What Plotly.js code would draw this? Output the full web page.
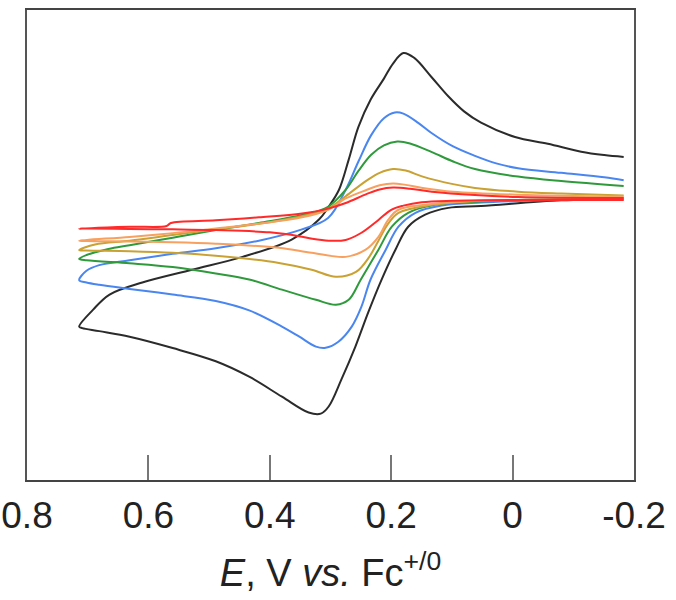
<!DOCTYPE html>
<html>
<head>
<meta charset="utf-8">
<script src="https://cdn.plot.ly/plotly-3.0.1.min.js"></script>
<style>html,body{margin:0;padding:0;background:#fff;}#chart{width:676px;height:600px;}</style>
</head>
<body>
<div id="chart"></div>
<script>
// Tick labels of the potential axis
var tickValues = [0.8, 0.6, 0.4, 0.2, 0, -0.2];
var tickLabels = ["0.8", "0.6", "0.4", "0.2", "0", "-0.2"];

// Black curve – forward (upper) and reverse (lower) sweeps
var blackFwdE = [0.714, 0.691, 0.664, 0.610, 0.528, 0.445, 0.364, 0.319, 0.303, 0.286, 0.270, 0.254, 0.234, 0.212, 0.197, 0.180, 0.162, 0.133, 0.106, 0.080, 0.052, -0.004, -0.058, -0.113, -0.151, -0.183];
var blackFwdI = [-34.3, -29.8, -25.8, -22.6, -19.2, -15.8, -11.2, -5.9, -2.5, 2.0, 10.0, 18.7, 25.9, 31.5, 35.5, 38.3, 37.0, 31.8, 26.8, 22.8, 19.8, 16.0, 14.2, 12.1, 11.2, 10.7];
var blackRevE = [-0.183, -0.080, 0.052, 0.106, 0.144, 0.172, 0.193, 0.216, 0.238, 0.259, 0.282, 0.303, 0.316, 0.336, 0.380, 0.434, 0.489, 0.560, 0.631, 0.681, 0.709, 0.714];
var blackRevI = [-0.5, -0.8, -2.3, -2.8, -4.6, -7.8, -13.9, -21.9, -30.6, -39.6, -48.3, -55.5, -57.4, -57.1, -52.9, -47.6, -43.5, -40.0, -37.0, -35.5, -34.7, -34.3];

// Blue curve
var blueFwdE = [0.714, 0.702, 0.681, 0.631, 0.560, 0.489, 0.418, 0.347, 0.304, 0.275, 0.254, 0.233, 0.212, 0.194, 0.180, 0.155, 0.133, 0.098, 0.062, 0.027, -0.009, -0.080, -0.151, -0.183];
var blueFwdI = [-22.0, -19.5, -18.0, -16.7, -15.0, -13.5, -11.5, -8.5, -5.5, 2.0, 9.5, 16.5, 21.0, 22.5, 22.2, 19.7, 17.0, 13.5, 11.0, 9.0, 7.7, 6.5, 5.3, 4.5];
var blueRevE = [-0.183, -0.009, 0.052, 0.117, 0.160, 0.188, 0.209, 0.234, 0.249, 0.265, 0.287, 0.308, 0.324, 0.352, 0.380, 0.434, 0.489, 0.560, 0.631, 0.681, 0.702, 0.714];
var blueRevI = [-0.3, -1.0, -1.4, -2.2, -4.1, -7.8, -13.9, -21.8, -29.0, -34.3, -38.3, -39.9, -39.6, -36.9, -34.3, -30.0, -27.5, -25.8, -24.3, -23.2, -22.6, -22.1];

// Green curve
var greenFwdE = [0.714, 0.702, 0.666, 0.631, 0.560, 0.489, 0.418, 0.347, 0.304, 0.275, 0.254, 0.233, 0.212, 0.190, 0.169, 0.133, 0.098, 0.062, -0.009, -0.080, -0.183];
var greenFwdI = [-16.3, -15.3, -13.7, -12.7, -10.7, -8.7, -6.8, -4.7, -2.5, 2.0, 7.0, 11.3, 13.8, 14.8, 14.3, 12.0, 9.5, 7.5, 5.5, 4.3, 3.0];
var greenRevE = [-0.183, -0.009, 0.062, 0.128, 0.172, 0.199, 0.221, 0.250, 0.270, 0.291, 0.324, 0.380, 0.434, 0.489, 0.560, 0.631, 0.702, 0.714];
var greenRevI = [-0.3, -0.7, -1.2, -2.0, -4.1, -7.8, -13.9, -21.8, -27.2, -28.5, -27.2, -24.5, -21.8, -20.2, -18.5, -17.5, -16.7, -16.4];

// Gold curve
var goldFwdE = [0.714, 0.688, 0.631, 0.560, 0.489, 0.418, 0.347, 0.304, 0.275, 0.240, 0.219, 0.197, 0.176, 0.148, 0.098, 0.062, -0.009, -0.080, -0.183];
var goldFwdI = [-14.0, -12.5, -11.5, -10.0, -8.5, -7.0, -5.0, -3.0, 0.3, 4.5, 6.5, 7.5, 7.1, 5.5, 3.5, 2.5, 1.5, 1.0, 0.5];
var goldRevE = [-0.183, -0.009, 0.062, 0.133, 0.188, 0.205, 0.221, 0.237, 0.258, 0.291, 0.331, 0.385, 0.489, 0.560, 0.631, 0.702, 0.714];
var goldRevI = [-0.5, -0.7, -1.0, -2.0, -4.1, -7.0, -11.5, -16.0, -19.8, -21.1, -19.2, -17.4, -15.5, -14.7, -14.3, -14.1, -14.0];

// Orange curve
var orangeFwdE = [0.714, 0.631, 0.560, 0.489, 0.418, 0.347, 0.304, 0.275, 0.240, 0.219, 0.197, 0.176, 0.148, 0.098, -0.009, -0.183];
var orangeFwdI = [-11.5, -10.5, -9.5, -8.3, -7.0, -5.3, -3.3, -0.3, 2.0, 3.2, 3.7, 3.3, 2.5, 1.5, 0.7, 0.2];
var orangeRevE = [-0.183, -0.009, 0.062, 0.133, 0.188, 0.205, 0.221, 0.242, 0.275, 0.331, 0.385, 0.489, 0.560, 0.631, 0.702, 0.714];
var orangeRevI = [-0.5, -0.7, -0.9, -1.8, -3.3, -6.0, -10.5, -13.9, -15.8, -14.7, -13.4, -12.3, -11.9, -11.7, -11.6, -11.5];

// Red curve
var redFwdE = [0.714, 0.631, 0.570, 0.563, 0.489, 0.418, 0.347, 0.304, 0.275, 0.240, 0.219, 0.197, 0.169, 0.133, 0.062, -0.009, -0.183];
var redFwdI = [-8.3, -7.8, -7.6, -6.8, -6.1, -5.3, -4.3, -3.0, -1.5, 0.9, 2.1, 2.6, 2.3, 1.5, 0.6, 0.1, -0.2];
var redRevE = [-0.183, -0.009, 0.098, 0.150, 0.180, 0.200, 0.221, 0.249, 0.275, 0.303, 0.330, 0.352, 0.400, 0.489, 0.560, 0.631, 0.702, 0.714];
var redRevI = [-0.7, -0.7, -0.9, -1.3, -2.2, -3.3, -6.0, -9.4, -11.3, -11.5, -11.0, -10.3, -9.3, -8.7, -8.5, -8.4, -8.3, -8.3];

var curves = [
  {fE: blackFwdE, fI: blackFwdI, rE: blackRevE, rI: blackRevI, color: "#2b2b2b"},
  {fE: blueFwdE, fI: blueFwdI, rE: blueRevE, rI: blueRevI, color: "#4a86f0"},
  {fE: greenFwdE, fI: greenFwdI, rE: greenRevE, rI: greenRevI, color: "#2f9a3c"},
  {fE: goldFwdE, fI: goldFwdI, rE: goldRevE, rI: goldRevI, color: "#c9a233"},
  {fE: orangeFwdE, fI: orangeFwdI, rE: orangeRevE, rI: orangeRevI, color: "#f7a060"},
  {fE: redFwdE, fI: redFwdI, rE: redRevE, rI: redRevI, color: "#ff2a2a"}
];

// Path: forward sweep walked from its right end back to the left turning point,
// then the reverse sweep from the turning point to its right end (right ends stay open).
var traces = curves.map(function (c) {
  var xs = c.fE.slice().reverse().concat(c.rE.slice().reverse().slice(1));
  var ys = c.fI.slice().reverse().concat(c.rI.slice().reverse().slice(1));
  return {
    x: xs,
    y: ys,
    type: "scatter",
    mode: "lines",
    line: {color: c.color, width: 2, shape: "spline", smoothing: 1},
    hoverinfo: "skip",
    showlegend: false
  };
});

var layout = {
  width: 676,
  height: 600,
  margin: {l: 27, r: 42, t: 10, b: 120},
  paper_bgcolor: "#fff",
  plot_bgcolor: "#fff",
  showlegend: false,
  font: {family: "Liberation Sans, Arial, sans-serif", color: "#222"},
  xaxis: {
    range: [0.8, -0.2],
    autorange: false,
    tickmode: "array",
    tickvals: tickValues,
    ticktext: tickLabels,
    ticks: "inside",
    ticklen: 25,
    tickwidth: 2,
    tickcolor: "#777",
    showline: true,
    linecolor: "#444",
    linewidth: 2,
    mirror: true,
    showgrid: false,
    zeroline: false,
    tickfont: {size: 37, color: "#222"},
    ticklabelstandoff: 2,
    title: {
      text: "<i>E</i>, V <i>vs.</i> Fc<sup>+/0</sup>",
      font: {size: 38, color: "#222"},
      standoff: 24
    }
  },
  yaxis: {
    range: [-75, 49.7],
    autorange: false,
    showticklabels: false,
    ticks: "",
    showgrid: false,
    zeroline: false,
    showline: true,
    linecolor: "#555",
    linewidth: 2,
    mirror: true
  }
};

Plotly.newPlot("chart", traces, layout, {displayModeBar: false, staticPlot: true});
</script>
</body>
</html>
